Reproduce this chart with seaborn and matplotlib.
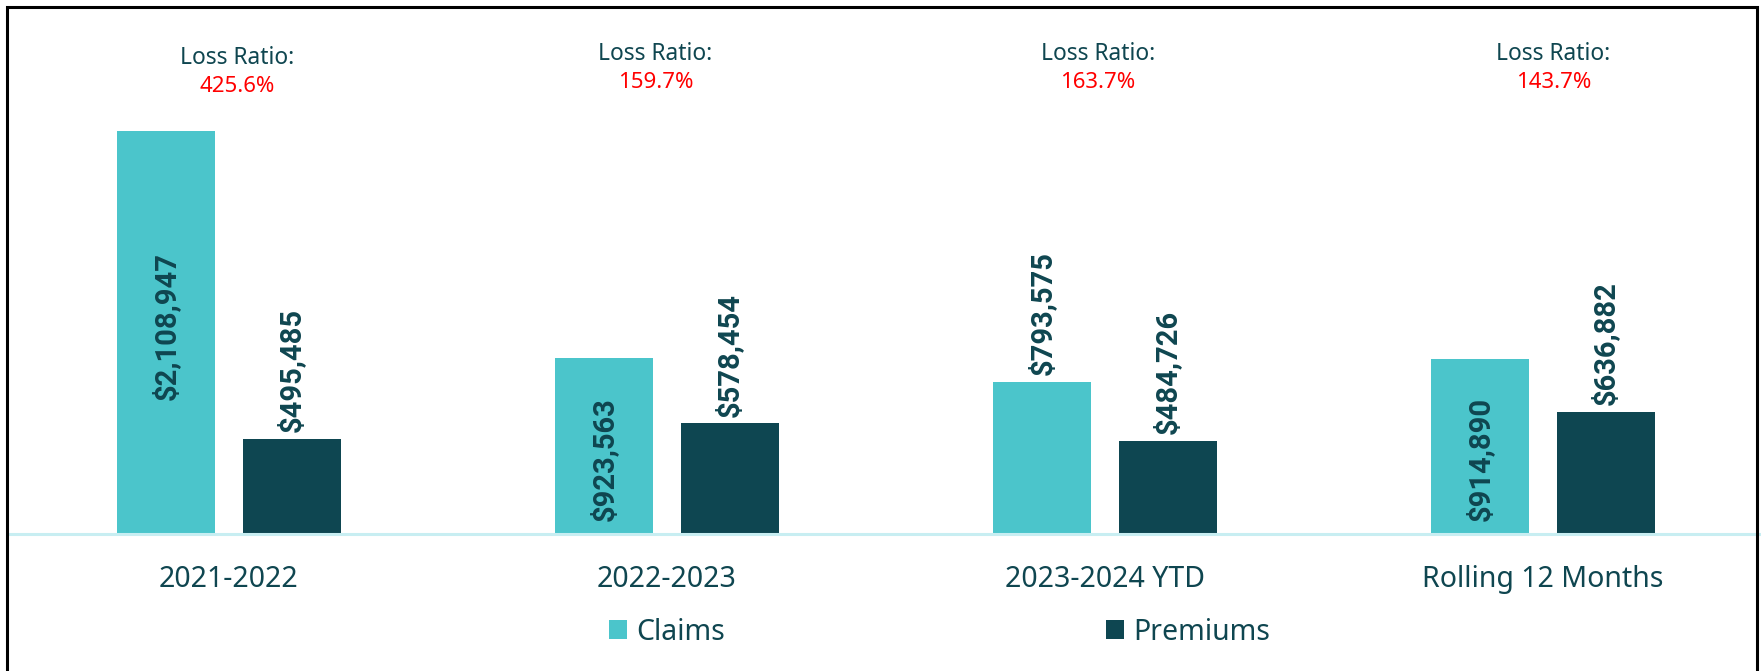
import matplotlib
matplotlib.use("Agg")
import matplotlib.pyplot as plt
import matplotlib.transforms as mtransforms
from matplotlib.patches import Patch, Rectangle
import pandas as pd
import seaborn as sns

# ---- data -------------------------------------------------------------
periods = ["2021-2022", "2022-2023", "2023-2024 YTD", "Rolling 12 Months"]
claims = [2108947, 923563, 793575, 914890]
premiums = [495485, 578454, 484726, 636882]
loss_ratios = ["425.6%", "159.7%", "163.7%", "143.7%"]
series_names = ["Claims", "Premiums"]

# where each claims value label sits (premium labels always sit above the bar)
claims_label_pos = ["center", "base", "end", "base"]

# ---- style ------------------------------------------------------------
CLAIMS_COLOR = "#4BC5CB"
PREMIUMS_COLOR = "#0E4651"
TEXT_COLOR = "#0F4650"
RATIO_COLOR = "#FF0000"
BASELINE_COLOR = "#C8EEF2"

sns.set_theme(style="white")
plt.rcParams["font.family"] = ["Noto Sans", "DejaVu Sans"]

W, H = 1761, 671
fig = plt.figure(figsize=(W / 100, H / 100), dpi=100)
ax = fig.add_axes([10 / W, 137 / H, 1752 / W, 524 / H])

df = pd.DataFrame({
    "Period": periods * 2,
    "Series": [series_names[0]] * len(periods) + [series_names[1]] * len(periods),
    "Amount": claims + premiums,
})

sns.barplot(
    data=df, x="Period", y="Amount", hue="Series",
    order=periods, hue_order=series_names,
    palette=[CLAIMS_COLOR, PREMIUMS_COLOR],
    width=0.571, gap=0.216, saturation=1, linewidth=0,
    errorbar=None, legend=False, ax=ax,
)

ax.set_xlim(-0.5, 3.5)
ax.set_ylim(0, 2.743e6)
ax.set_xlabel("")
ax.set_ylabel("")
ax.set_yticks([])
for side in ("left", "right", "top"):
    ax.spines[side].set_visible(False)
ax.spines["bottom"].set_color(BASELINE_COLOR)
ax.spines["bottom"].set_linewidth(2.2)
ax.tick_params(axis="x", length=0, pad=22, labelsize=20.5, labelcolor=TEXT_COLOR)

# ---- value labels on the bars -----------------------------------------
label_kw = dict(rotation=90, ha="center", color=TEXT_COLOR, fontsize=21,
                family=["Roboto", "DejaVu Sans"], fontweight="bold",
                textcoords="offset points")
for series_idx, container in enumerate(ax.containers):
    for cat_idx, bar in enumerate(container):
        x = bar.get_x() + bar.get_width() / 2
        h = bar.get_height()
        text = f"${h:,.0f}"
        pos = claims_label_pos[cat_idx] if series_idx == 0 else "end"
        if pos == "end":
            ax.annotate(text, (x, h), xytext=(0, 5), va="bottom", **label_kw)
        elif pos == "base":
            ax.annotate(text, (x, 0), xytext=(0, 9.5), va="bottom", **label_kw)
        else:
            ax.annotate(text, (x, h / 2), xytext=(0, 5), va="center", **label_kw)

# ---- loss ratio captions above each group -----------------------------
caption_dx = [5.8, -8.3, -5.0, 7.6]      # horizontal nudge, points
caption_top = [58, 54, 54, 54]            # "Loss Ratio:" centre, px from top
blend = mtransforms.blended_transform_factory(ax.transData, fig.transFigure)
for i, ratio in enumerate(loss_ratios):
    y1 = 1 - caption_top[i] / H
    y2 = 1 - (caption_top[i] + 28) / H
    ax.annotate("Loss Ratio:", (i, y1), xycoords=blend, xytext=(caption_dx[i], 0),
                textcoords="offset points", ha="center", va="center",
                fontsize=16.4, color=TEXT_COLOR, annotation_clip=False)
    ax.annotate(ratio, (i, y2), xycoords=blend, xytext=(caption_dx[i], 0),
                textcoords="offset points", ha="center", va="center",
                fontsize=16, color=RATIO_COLOR, annotation_clip=False)

# ---- legend ------------------------------------------------------------
handles = [Patch(facecolor=CLAIMS_COLOR, edgecolor="none"),
           Patch(facecolor=PREMIUMS_COLOR, edgecolor="none")]
fig.legend(handles, series_names, loc="center left",
           bbox_to_anchor=(609 / W, 1 - 632 / H), ncol=2, frameon=False,
           fontsize=20.5, labelcolor=TEXT_COLOR,
           handlelength=0.63, handleheight=0.63, handletextpad=0.32,
           columnspacing=13.4, borderpad=0, borderaxespad=0)

# ---- outer frame ---------------------------------------------------------
fig.add_artist(Rectangle((7 / W, -0.05), (1757 - 7) / W, 1 - 7 / H + 0.05,
                         transform=fig.transFigure, fill=False,
                         edgecolor="black", linewidth=2.2))

fig.savefig("out.png", dpi=100)
